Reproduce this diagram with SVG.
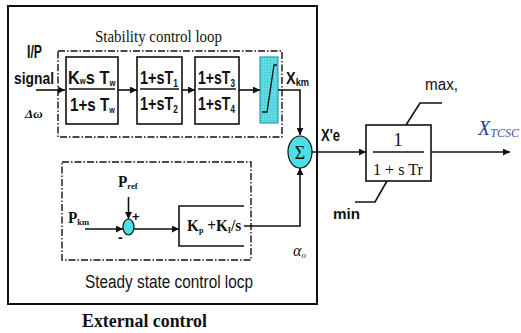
<svg xmlns="http://www.w3.org/2000/svg" width="521" height="333" viewBox="0 0 521 333">
<style>
.ln{fill:none;stroke:#111;stroke-width:1.6}
.bx{fill:#fff;stroke:#111;stroke-width:1.6}
.dash{fill:none;stroke:#111;stroke-width:1.4;stroke-dasharray:7,2,1.5,2}
.sb{font-family:"Liberation Sans",Arial,sans-serif;font-weight:bold;fill:#111}
.sn{font-family:"Liberation Sans",Arial,sans-serif;fill:#111}
.sf{font-family:"Liberation Serif","Times New Roman",serif;fill:#111}
.bt{font-family:"Liberation Sans",Arial,sans-serif;font-weight:bold;fill:#111;font-size:19px}
.cy{fill:#4fdde6;stroke:#111;stroke-width:1.2}
</style>
<defs>
<marker id="ah" viewBox="0 0 10 10" refX="10" refY="5" markerWidth="7" markerHeight="7" markerUnits="userSpaceOnUse" orient="auto">
<path d="M0,0 L10,5 L0,10 z" fill="#111"/>
</marker>
<pattern id="grid" width="3" height="3" patternUnits="userSpaceOnUse">
<rect width="3" height="3" fill="#5fe0e8"/>
<path d="M0,0 H3 M0,0 V3" stroke="#3aaab5" stroke-width="0.5"/>
</pattern>
</defs>
<rect id="external" x="8" y="6" width="309" height="298" fill="none" stroke="#111" stroke-width="2"/>
<rect id="stability-loop" x="58" y="51" width="224" height="86" class="dash"/>
<rect id="steady-loop" x="62" y="162" width="189" height="98" class="dash"/>
<text class="sf" x="95" y="42" font-size="16" textLength="127" lengthAdjust="spacingAndGlyphs">Stability control loop</text>
<text class="sn" x="85" y="288" font-size="18" textLength="168" lengthAdjust="spacingAndGlyphs">Steady state control locp</text>
<text class="sf" x="82" y="327" font-size="18" font-weight="bold" textLength="125" lengthAdjust="spacingAndGlyphs">External control</text>
<g id="input-label">
<text class="sb" x="27" y="58" font-size="19" textLength="15" lengthAdjust="spacingAndGlyphs">I/P</text>
<text class="sb" x="14" y="84" font-size="17" textLength="40" lengthAdjust="spacingAndGlyphs">signal</text>
<text class="sf" x="25" y="118" font-size="13" font-style="italic" font-weight="bold">Δω</text>
</g>
<g id="washout">
<rect class="bx" x="66" y="57" width="52" height="67"/>
<line class="ln" x1="69" y1="89" x2="115" y2="89"/>
<text class="bt" transform="translate(68,84) scale(0.86,1)">K<tspan font-size="9">w</tspan>s T<tspan font-size="9" dy="2">w</tspan></text>
<text class="bt" transform="translate(70,111) scale(0.8,1)">1+s T<tspan font-size="9" dy="2">w</tspan></text>
</g>
<g id="leadlag1">
<rect class="bx" x="137" y="57" width="45" height="67"/>
<line class="ln" x1="140" y1="89" x2="179" y2="89"/>
<text class="bt" transform="translate(140,84) scale(0.76,1)">1+sT<tspan font-size="11" dy="3">1</tspan></text>
<text class="bt" transform="translate(140,110) scale(0.76,1)">1+sT<tspan font-size="11" dy="3">2</tspan></text>
</g>
<g id="leadlag2">
<rect class="bx" x="195" y="57" width="44" height="67"/>
<line class="ln" x1="198" y1="89" x2="236" y2="89"/>
<text class="bt" transform="translate(198,84) scale(0.74,1)">1+sT<tspan font-size="11" dy="3">3</tspan></text>
<text class="bt" transform="translate(198,110) scale(0.74,1)">1+sT<tspan font-size="11" dy="3">4</tspan></text>
</g>
<g id="limiter">
<rect x="260" y="57" width="18" height="66" fill="url(#grid)" stroke="#2aa0aa" stroke-width="1.2"/>
<path d="M262,112 L267,112 L274,65 L277,65" fill="none" stroke="#111" stroke-width="1.3"/>
</g>
<text class="sb" font-size="17" transform="translate(286,84) scale(0.85,1)">X<tspan font-size="11" dy="2">km</tspan></text>
<g id="sum-main">
<ellipse class="cy" cx="300" cy="152" rx="12" ry="16"/>
<text class="sf" x="300" y="159" font-size="18" text-anchor="middle">Σ</text>
</g>
<text class="sb" x="321" y="141" font-size="16" textLength="19" lengthAdjust="spacingAndGlyphs">X'e</text>
<g id="tcsc-block">
<rect class="bx" x="366" y="125" width="65" height="56"/>
<line class="ln" x1="373" y1="152" x2="424" y2="152"/>
<text class="sf" x="398" y="146" font-size="18" text-anchor="middle">1</text>
<text class="sf" x="398" y="175" font-size="17" text-anchor="middle" textLength="50" lengthAdjust="spacingAndGlyphs">1 + s Tr</text>
<path class="ln" d="M406,125 L420,103 L442,103" stroke-width="1.2"/>
<path class="ln" d="M387,181 L375,202 L355,202" stroke-width="1.2"/>
<text class="sn" x="425" y="90" font-size="16" textLength="33" lengthAdjust="spacingAndGlyphs">max,</text>
<text class="sb" x="333" y="219" font-size="15" textLength="27" lengthAdjust="spacingAndGlyphs">min</text>
</g>
<text x="478" y="135" font-family="Liberation Serif,serif" font-style="italic" fill="#2e3f96" font-size="20">X<tspan font-size="12" dy="2" fill="#4a4fb0">TCSC</tspan></text>
<g id="sum-small">
<ellipse class="cy" cx="128.5" cy="227" rx="5.5" ry="8"/>
<text class="sb" x="118" y="242" font-size="14">-</text>
<text class="sb" x="132" y="221" font-size="13">+</text>
</g>
<text class="sf" font-size="16" font-weight="bold" transform="translate(118,187) scale(0.95,1)">P<tspan font-size="9" dy="2">ref</tspan></text>
<text class="sf" font-size="16" font-weight="bold" transform="translate(68,223) scale(0.95,1)">P<tspan font-size="9" dy="2">km</tspan></text>
<g id="pi-block">
<path class="ln" d="M244,206 H179 V246 H244"/>
<text class="sf" font-size="17" font-weight="bold" transform="translate(187,231) scale(0.9,1)">K<tspan font-size="9" dy="2">p</tspan><tspan dy="-2"> +K</tspan><tspan font-size="9" dy="2">I</tspan><tspan dy="-2">/s</tspan></text>
</g>
<text class="sf" x="293" y="256" font-size="16" font-style="italic">α<tspan font-size="9" dy="2">o</tspan></text>
<g id="connectors">
<line class="ln" x1="36" y1="90" x2="65" y2="90" marker-end="url(#ah)"/>
<line class="ln" x1="118" y1="90" x2="137" y2="90" marker-end="url(#ah)"/>
<line class="ln" x1="182" y1="90" x2="195" y2="90" marker-end="url(#ah)"/>
<line class="ln" x1="239" y1="90" x2="260" y2="90" marker-end="url(#ah)"/>
<path class="ln" d="M278,90 H300 V135" marker-end="url(#ah)"/>
<line class="ln" x1="312" y1="152" x2="366" y2="152" marker-end="url(#ah)"/>
<line class="ln" x1="431" y1="152" x2="510" y2="152" marker-end="url(#ah)"/>
<line class="ln" x1="85" y1="229" x2="123" y2="229" marker-end="url(#ah)"/>
<line class="ln" x1="128.5" y1="197" x2="128.5" y2="219" marker-end="url(#ah)"/>
<line class="ln" x1="134" y1="229" x2="179" y2="229" marker-end="url(#ah)"/>
<path class="ln" d="M244,226 H300 V168" marker-end="url(#ah)"/>
</g>
</svg>
